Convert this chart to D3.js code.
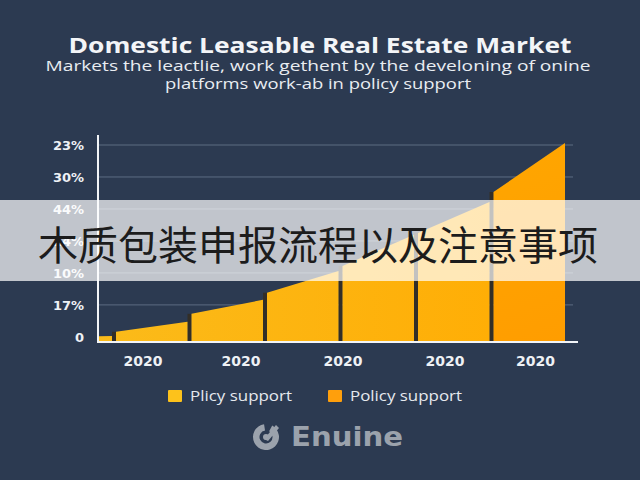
<!DOCTYPE html>
<html>
<head>
<meta charset="utf-8">
<script src="https://cdn.jsdelivr.net/npm/d3@7"></script>
<style>
  html, body { margin: 0; padding: 0; background: #2c3a51; }
  svg { display: block; }
</style>
</head>
<body>
<svg id="chart" width="640" height="480"></svg>
<script>
// ---- data ----
const title = "Domestic Leasable Real Estate Market";
const subtitleLines = [
  "Markets the leactlie, work gethent by the develoning of onine",
  "platforms work-ab in policy support"
];
const overlayText = "木质包装申报流程以及注意事项";
const seriesNames = ["Plicy support", "Policy support"];
const periodFrom = [-0.25, 0, 1, 2, 3, 4, 5];
const periodTo   = [0, 1, 2, 3, 4, 5, 6];
const barStart   = [0.02, 0.16, 0.72, 1.38, 2.22, 3.25, 4.53];
const barEnd     = [0.03, 0.47, 1.16, 2.06, 3.19, 4.22, 6.06];
const barSeries  = [0, 0, 0, 0, 0, 0, 1];
const yTickValues = [0, 1, 2, 3, 4, 5, 6];
const yTickLabels = ["0", "17%", "10%", "24%", "44%", "30%", "23%"];
const xTickValues = [0.35, 1.65, 3.0, 4.35, 5.55];
const xTickLabels = ["2020", "2020", "2020", "2020", "2020"];
const brand = "Enuine";

// ---- drawing ----
const svg = d3.select("#chart");
const W = 640, H = 480;
svg.append("rect").attr("width", W).attr("height", H).attr("fill", "#2c3a51");

const x = d3.scaleLinear().domain([0, 6]).range([116, 569]);
const y = d3.scaleLinear().domain([-0.16, 6]).range([342, 145]);
const gap = 4;

const defs = svg.append("defs");
const g1 = defs.append("linearGradient").attr("id", "gY")
  .attr("gradientUnits", "userSpaceOnUse").attr("x1", 99).attr("x2", 490).attr("y1", 0).attr("y2", 0);
g1.append("stop").attr("offset", 0).attr("stop-color", "#fbbb1a");
g1.append("stop").attr("offset", 1).attr("stop-color", "#ffae06");
const g2 = defs.append("linearGradient").attr("id", "gO")
  .attr("gradientUnits", "userSpaceOnUse").attr("x1", 491).attr("x2", 566).attr("y1", 150).attr("y2", 340);
g2.append("stop").attr("offset", 0).attr("stop-color", "#ffa600");
g2.append("stop").attr("offset", 1).attr("stop-color", "#ff9d00");
const fills = ["url(#gY)", "url(#gO)"];
const legendColors = ["#fdc21b", "#ff9f0c"];

// gridlines
svg.append("g").selectAll("line").data(yTickValues.filter(v => v > 0)).join("line")
  .attr("x1", 99).attr("x2", 573)
  .attr("y1", d => y(d)).attr("y2", d => y(d))
  .attr("stroke", "#5d6c82").attr("stroke-width", 1);

// bars
const bars = barStart.map((s, i) => ({
  x0: Math.max(x(periodFrom[i]), 99),
  x1: x(periodTo[i]) - gap,
  s, e: barEnd[i], k: barSeries[i], i
}));

// dark dividers between bars
svg.append("g").selectAll("rect").data(bars.filter(d => d.i > 0)).join("rect")
  .attr("x", d => d.x0 - gap).attr("width", gap)
  .attr("y", d => y(d.s)).attr("height", d => y(-0.16) - y(d.s))
  .attr("fill", "#332e27");

svg.append("g").selectAll("path").data(bars).join("path")
  .attr("d", d => {
    const b = y(-0.16);
    return `M${d.x0},${b}L${d.x0},${y(d.s)}L${d.x1},${y(d.e)}L${d.x1},${b}Z`;
  })
  .attr("fill", d => fills[d.k]);

// axes lines
svg.append("line").attr("x1", 98).attr("x2", 98).attr("y1", 135).attr("y2", 343)
  .attr("stroke", "#f2f4f7").attr("stroke-width", 2);
svg.append("line").attr("x1", 97).attr("x2", 578).attr("y1", 342).attr("y2", 342)
  .attr("stroke", "#f2f4f7").attr("stroke-width", 2);

// y axis labels
const yAxis = d3.axisLeft(y).tickValues(yTickValues)
  .tickFormat((d, i) => yTickLabels[i]).tickSize(0).tickPadding(0);
const gy = svg.append("g").attr("transform", "translate(84,0)").call(yAxis);
gy.select(".domain").remove();
gy.selectAll("text").attr("font-family", "DejaVu Sans").attr("font-weight", "bold")
  .attr("font-size", 13).attr("fill", "#eef1f5").attr("dy", "0.36em");

// x axis labels
const xAxis = d3.axisBottom(x).tickValues(xTickValues)
  .tickFormat((d, i) => xTickLabels[i]).tickSize(0).tickPadding(0);
const gx = svg.append("g").attr("transform", "translate(0,354)").call(xAxis);
gx.select(".domain").remove();
gx.selectAll("text").attr("font-family", "DejaVu Sans").attr("font-weight", "bold")
  .attr("font-size", 14).attr("fill", "#eef1f5").attr("dy", "0.85em");

// title & subtitle
svg.append("text").attr("x", 320).attr("y", 53).attr("text-anchor", "middle")
  .attr("font-family", "Open Sans, DejaVu Sans, sans-serif").attr("font-weight", "bold")
  .attr("font-size", 21).attr("fill", "#f3f5f8")
  .attr("textLength", 503).attr("lengthAdjust", "spacingAndGlyphs")
  .text(title);
const subLens = [545, 306];
subtitleLines.forEach((t, i) => {
  svg.append("text").attr("x", 318).attr("y", 71 + i * 18).attr("text-anchor", "middle")
    .attr("font-family", "Open Sans, DejaVu Sans, sans-serif")
    .attr("font-size", 15).attr("fill", "#e9edf2")
    .attr("textLength", subLens[i]).attr("lengthAdjust", "spacingAndGlyphs")
    .text(t);
});

// legend
const lg = svg.append("g");
const legX = [168, 328];
seriesNames.forEach((n, i) => {
  lg.append("rect").attr("x", legX[i]).attr("y", 390).attr("width", 14).attr("height", 12)
    .attr("rx", 1).attr("fill", legendColors[i]);
  lg.append("text").attr("x", legX[i] + 22).attr("y", 401)
    .attr("font-family", "Open Sans, DejaVu Sans, sans-serif").attr("font-size", 15)
    .attr("fill", "#e6e9ee")
    .attr("textLength", i === 0 ? 102 : 112).attr("lengthAdjust", "spacingAndGlyphs")
    .text(n);
});

// brand logo
const logo = svg.append("g").attr("transform", "translate(266,437)");
logo.append("path")
  .attr("d", d3.arc().innerRadius(6.5).outerRadius(13).startAngle(0.5).endAngle(2 * Math.PI - 0.15)())
  .attr("fill", "#9ba2ac");
logo.append("path").attr("d", "M-2,2 L10,-12 L13,-9 L2,4 Z").attr("fill", "#9ba2ac");
logo.append("circle").attr("r", 3).attr("fill", "#9ba2ac");
svg.append("text").attr("x", 291).attr("y", 446)
  .attr("font-family", "DejaVu Sans").attr("font-weight", "bold")
  .attr("font-size", 26).attr("fill", "#9ba2ac")
  .attr("textLength", 112).attr("lengthAdjust", "spacingAndGlyphs")
  .text(brand);

// overlay band with Chinese text
svg.append("rect").attr("x", 0).attr("y", 200).attr("width", W).attr("height", 81)
  .attr("fill", "#ffffff").attr("opacity", 0.71);
svg.append("text").attr("x", 318).attr("y", 260).attr("text-anchor", "middle")
  .attr("font-family", "Noto Sans CJK SC").attr("font-size", 40)
  .attr("fill", "#1c1c1c")
  .text(overlayText);
</script>
</body>
</html>
